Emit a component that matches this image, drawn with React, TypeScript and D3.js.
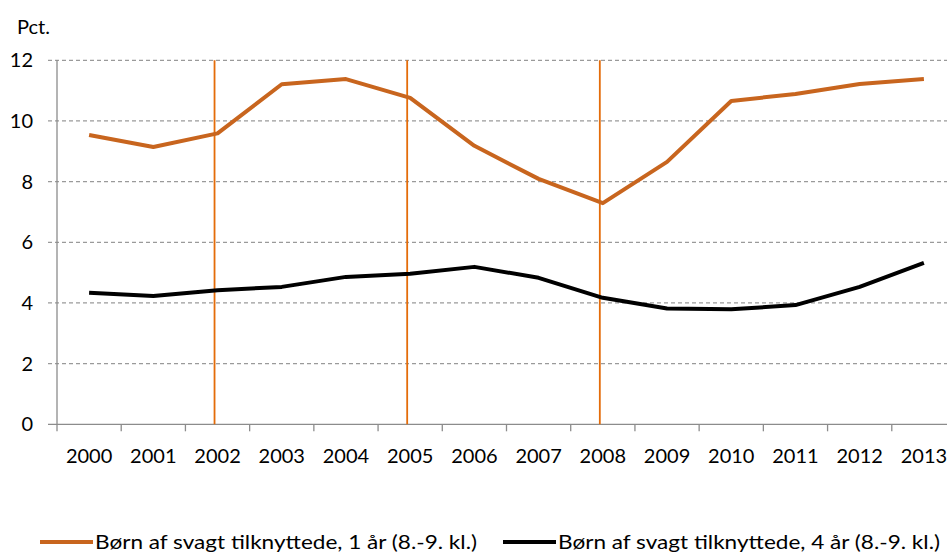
import React, { useEffect, useRef } from 'react'
import * as d3 from 'd3'

const years = ['2000', '2001', '2002', '2003', '2004', '2005', '2006', '2007', '2008', '2009', '2010', '2011', '2012', '2013']
const oneYear = [9.54, 9.14, 9.59, 11.21, 11.38, 10.76, 9.18, 8.09, 7.29, 8.65, 10.66, 10.89, 11.22, 11.38]
const fourYear = [4.34, 4.23, 4.42, 4.53, 4.86, 4.96, 5.19, 4.83, 4.17, 3.82, 3.79, 3.93, 4.53, 5.32]
const markerYears = ['2002', '2005', '2008']
const yTicks = [0, 2, 4, 6, 8, 10, 12]
const seriesNames = ['Børn af svagt tilknyttede, 1 år (8.-9. kl.)', 'Børn af svagt tilknyttede, 4 år (8.-9. kl.)']

const W = 947
const H = 552
const FONT = 'Lato, "Open Sans", sans-serif'

export default function App() {
  const ref = useRef<SVGSVGElement | null>(null)

  useEffect(() => {
    const svg = d3.select(ref.current)
    svg.selectAll('*').remove()

    const left = 57, right = 956, top = 60.3, bottom = 424.3
    const x = d3.scaleBand().domain(years).range([left, right])
    const y = d3.scaleLinear().domain([0, 12]).range([bottom, top])
    const cx = (d: string) => (x(d) || 0) + x.bandwidth() / 2

    // grid
    svg.append('g').selectAll('line').data(yTicks.filter(t => t > 0)).enter().append('line')
      .attr('x1', 48).attr('x2', right)
      .attr('y1', d => y(d)).attr('y2', d => y(d))
      .attr('stroke', '#9a9a9a').attr('stroke-width', 1.2).attr('stroke-dasharray', '4,3')

    // axes
    svg.append('line').attr('x1', left).attr('x2', left).attr('y1', top).attr('y2', bottom)
      .attr('stroke', '#8c8c8c').attr('stroke-width', 1.3)
    svg.append('line').attr('x1', 48).attr('x2', right).attr('y1', bottom).attr('y2', bottom)
      .attr('stroke', '#8c8c8c').attr('stroke-width', 1.3)
    svg.append('g').selectAll('line').data(years).enter().append('line')
      .attr('x1', d => x(d) || 0).attr('x2', d => x(d) || 0)
      .attr('y1', bottom).attr('y2', bottom + 7)
      .attr('stroke', '#8c8c8c').attr('stroke-width', 1.3)

    // y labels
    svg.append('g').selectAll('text').data(yTicks).enter().append('text')
      .attr('x', 33).attr('y', d => y(d)).attr('dy', '0.35em')
      .attr('text-anchor', 'end').attr('font-family', FONT).attr('font-size', 20).attr('fill', '#000')
      .text(d => String(d))
    svg.append('text').attr('x', 17).attr('y', 34).attr('font-family', FONT).attr('font-size', 20)
      .text('Pct.')

    // x labels
    svg.append('g').selectAll('text').data(years).enter().append('text')
      .attr('x', d => cx(d)).attr('y', 463)
      .attr('text-anchor', 'middle').attr('font-family', FONT).attr('font-size', 20).attr('fill', '#000')
      .text(d => d)

    // reform markers
    svg.append('g').selectAll('line').data(markerYears).enter().append('line')
      .attr('x1', d => cx(d) - 3).attr('x2', d => cx(d) - 3)
      .attr('y1', top).attr('y2', bottom)
      .attr('stroke', '#e46c0a').attr('stroke-width', 1.8)

    const line = d3.line<number>().x((_, i) => cx(years[i])).y(d => y(d))
    svg.append('path').datum(oneYear).attr('fill', 'none').attr('stroke', '#c8651e')
      .attr('stroke-width', 4).attr('stroke-linejoin', 'round').attr('d', line)
    svg.append('path').datum(fourYear).attr('fill', 'none').attr('stroke', '#000')
      .attr('stroke-width', 4).attr('stroke-linejoin', 'round').attr('d', line)

    // legend
    const legend = [
      { name: seriesNames[0], color: '#c8651e', x0: 40 },
      { name: seriesNames[1], color: '#000', x0: 503 },
    ]
    const lg = svg.append('g').selectAll('g').data(legend).enter().append('g')
    lg.append('line').attr('x1', d => d.x0).attr('x2', d => d.x0 + 53).attr('y1', 542).attr('y2', 542)
      .attr('stroke', d => d.color).attr('stroke-width', 4)
    lg.append('text').attr('x', d => d.x0 + 55).attr('y', 549)
      .attr('font-family', FONT).attr('font-size', 20).attr('textLength', 382).attr('lengthAdjust', 'spacingAndGlyphs')
      .text(d => d.name)
  }, [])

  return (
    <svg ref={ref} width={W} height={H} style={{ position: 'absolute', left: 0, top: 0, background: '#fff' }} />
  )
}
